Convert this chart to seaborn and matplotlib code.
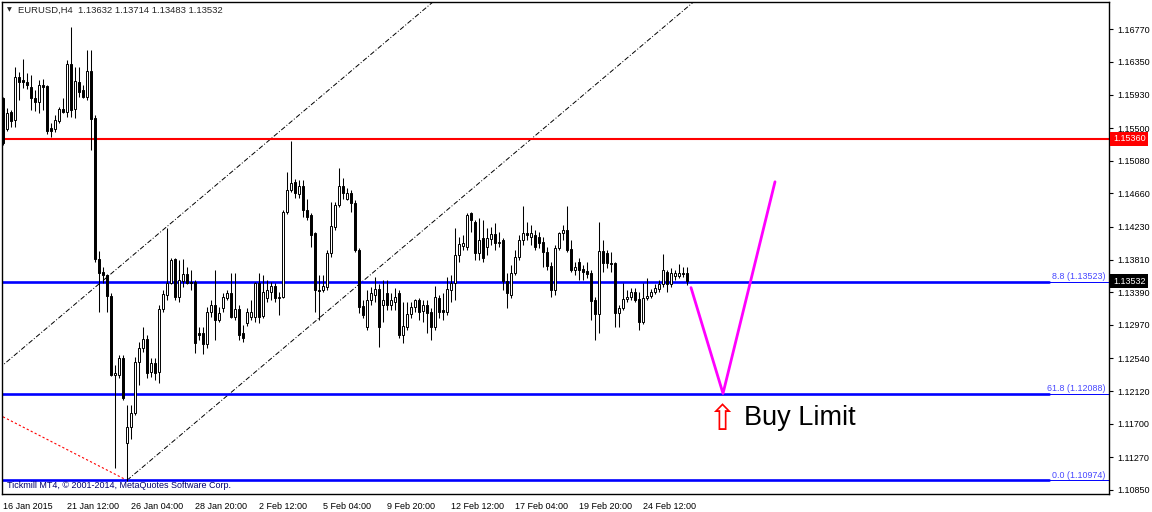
import numpy as np
import pandas as pd
import matplotlib
matplotlib.use("Agg")
import matplotlib.pyplot as plt
import seaborn as sns

sns.set_theme(style="white")
plt.rcParams["font.family"] = ["Liberation Sans", "DejaVu Sans"]

# EURUSD H4 candles (bar 0 = 16 Jan 20:00)
opens = [
    1.1589, 1.1549, 1.1571, 1.1560, 1.1616, 1.1612, 1.1609, 1.1603, 1.1589, 1.1584,
    1.1605, 1.1604, 1.1550, 1.1549, 1.1559, 1.1575, 1.1571, 1.1632, 1.1575, 1.1609,
    1.1599, 1.1590, 1.1623, 1.1563, 1.1382, 1.1365, 1.1361, 1.1334, 1.1233, 1.1233,
    1.1255, 1.1145, 1.1166, 1.1184, 1.1249, 1.1267, 1.1279, 1.1237, 1.1248, 1.1237,
    1.1318, 1.1336, 1.1351, 1.1382, 1.1333, 1.1353, 1.1363, 1.1352, 1.1352, 1.1287,
    1.1287, 1.1272, 1.1314, 1.1323, 1.1303, 1.1319, 1.1332, 1.1338, 1.1307, 1.1318,
    1.1287, 1.1299, 1.1307, 1.1307, 1.1351, 1.1308, 1.1332, 1.1339, 1.1347, 1.1332,
    1.1333, 1.1442, 1.1470, 1.1481, 1.1465, 1.1476, 1.1445, 1.1438, 1.1415, 1.1342,
    1.1342, 1.1346, 1.1390, 1.1423, 1.1451, 1.1475, 1.1459, 1.1466, 1.1454, 1.1393,
    1.1321, 1.1294, 1.1329, 1.1336, 1.1343, 1.1323, 1.1338, 1.1323, 1.1327, 1.1338,
    1.1284, 1.1295, 1.1311, 1.1320, 1.1329, 1.1315, 1.1323, 1.1314, 1.1294, 1.1332,
    1.1316, 1.1314, 1.1342, 1.1351, 1.1387, 1.1398, 1.1397, 1.1441, 1.1429, 1.1390,
    1.1409, 1.1397, 1.1408, 1.1414, 1.1402, 1.1406, 1.1353, 1.1336, 1.1364, 1.1384,
    1.1406, 1.1415, 1.1410, 1.1413, 1.1410, 1.1404, 1.1391, 1.1373, 1.1342, 1.1396,
    1.1415, 1.1419, 1.1395, 1.1368, 1.1378, 1.1369, 1.1366, 1.1364, 1.1329, 1.1311,
    1.1392, 1.1390, 1.1377, 1.1377, 1.1313, 1.1319, 1.1330, 1.1333, 1.1339, 1.1330,
    1.1301, 1.1332, 1.1334, 1.1339, 1.1343, 1.1349, 1.1365, 1.1349, 1.1360, 1.1360,
    1.1364, 1.13632,
]
highs = [
    1.1590, 1.1576, 1.1573, 1.1629, 1.1622, 1.1639, 1.1621, 1.1618, 1.1599, 1.1612,
    1.1613, 1.1605, 1.1557, 1.1567, 1.1577, 1.1589, 1.1638, 1.1680, 1.1629, 1.1629,
    1.1605, 1.1650, 1.1650, 1.1567, 1.1392, 1.1372, 1.1362, 1.1338, 1.1245, 1.1259,
    1.1259, 1.1194, 1.1194, 1.1256, 1.1275, 1.1295, 1.1284, 1.1255, 1.1255, 1.1323,
    1.1342, 1.1422, 1.1383, 1.1383, 1.1381, 1.1382, 1.1372, 1.1368, 1.1355, 1.1295,
    1.1294, 1.1320, 1.1329, 1.1368, 1.1320, 1.1338, 1.1342, 1.1364, 1.1364, 1.1323,
    1.1297, 1.1319, 1.1329, 1.1352, 1.1364, 1.1361, 1.1355, 1.1352, 1.1351, 1.1339,
    1.1445, 1.1494, 1.1533, 1.1485, 1.1483, 1.1483, 1.1459, 1.1441, 1.1417, 1.1361,
    1.1361, 1.1393, 1.1455, 1.1455, 1.1499, 1.1486, 1.1473, 1.1470, 1.1458, 1.1396,
    1.1329, 1.1342, 1.1346, 1.1359, 1.1349, 1.1355, 1.1355, 1.1338, 1.1345, 1.1342,
    1.1326, 1.1326, 1.1327, 1.1330, 1.1332, 1.1329, 1.1329, 1.1319, 1.1347, 1.1336,
    1.1338, 1.1359, 1.1361, 1.1422, 1.1410, 1.1413, 1.1441, 1.1442, 1.1432, 1.1434,
    1.1432, 1.1422, 1.1423, 1.1428, 1.1417, 1.1409, 1.1364, 1.1374, 1.1393, 1.1413,
    1.1450, 1.1429, 1.1426, 1.1419, 1.1417, 1.1410, 1.1397, 1.1378, 1.1400, 1.1417,
    1.1426, 1.1450, 1.1406, 1.1378, 1.1383, 1.1374, 1.1378, 1.1368, 1.1333, 1.1429,
    1.1406, 1.1393, 1.1391, 1.1378, 1.1323, 1.1351, 1.1342, 1.1345, 1.1345, 1.1339,
    1.1351, 1.1357, 1.1343, 1.1349, 1.1355, 1.1388, 1.1368, 1.1370, 1.1368, 1.1375,
    1.1372, 1.13714,
]
lows = [
    1.1528, 1.1546, 1.1551, 1.1551, 1.1586, 1.1602, 1.1600, 1.1573, 1.1572, 1.1569,
    1.1573, 1.1542, 1.1539, 1.1545, 1.1557, 1.1569, 1.1564, 1.1564, 1.1563, 1.1590,
    1.1589, 1.1586, 1.1522, 1.1378, 1.1314, 1.1351, 1.1314, 1.1232, 1.1113, 1.1229,
    1.1201, 1.1097, 1.1151, 1.1181, 1.1220, 1.1262, 1.1229, 1.1230, 1.1226, 1.1222,
    1.1314, 1.1329, 1.1349, 1.1329, 1.1327, 1.1346, 1.1349, 1.1342, 1.1261, 1.1278,
    1.1260, 1.1267, 1.1307, 1.1278, 1.1301, 1.1314, 1.1329, 1.1306, 1.1303, 1.1278,
    1.1275, 1.1296, 1.1303, 1.1301, 1.1299, 1.1306, 1.1327, 1.1329, 1.1327, 1.1310,
    1.1332, 1.1440, 1.1468, 1.1460, 1.1460, 1.1436, 1.1432, 1.1397, 1.1314, 1.1303,
    1.1339, 1.1342, 1.1384, 1.1419, 1.1449, 1.1459, 1.1458, 1.1442, 1.1391, 1.1313,
    1.1306, 1.1291, 1.1323, 1.1326, 1.1269, 1.1301, 1.1316, 1.1316, 1.1316, 1.1280,
    1.1274, 1.1291, 1.1306, 1.1314, 1.1303, 1.1301, 1.1287, 1.1278, 1.1291, 1.1306,
    1.1303, 1.1310, 1.1326, 1.1329, 1.1378, 1.1393, 1.1393, 1.1417, 1.1381, 1.1381,
    1.1378, 1.1387, 1.1400, 1.1393, 1.1397, 1.1342, 1.1319, 1.1332, 1.1361, 1.1381,
    1.1400, 1.1406, 1.1400, 1.1393, 1.1396, 1.1372, 1.1368, 1.1333, 1.1336, 1.1393,
    1.1406, 1.1391, 1.1365, 1.1361, 1.1355, 1.1355, 1.1357, 1.1303, 1.1278, 1.1287,
    1.1365, 1.1370, 1.1365, 1.1295, 1.1295, 1.1316, 1.1326, 1.1329, 1.1326, 1.1291,
    1.1298, 1.1329, 1.1332, 1.1337, 1.1340, 1.1346, 1.1339, 1.1346, 1.1355, 1.1357,
    1.1358, 1.13483,
]
closes = [
    1.1531, 1.1569, 1.1559, 1.1616, 1.1609, 1.1609, 1.1605, 1.1589, 1.1584, 1.1605,
    1.1603, 1.1546, 1.1546, 1.1560, 1.1575, 1.1571, 1.1632, 1.1573, 1.1611, 1.1596,
    1.1590, 1.1623, 1.1562, 1.1382, 1.1364, 1.1361, 1.1334, 1.1233, 1.1235, 1.1255,
    1.1203, 1.1166, 1.1184, 1.1249, 1.1267, 1.1279, 1.1235, 1.1248, 1.1235, 1.1318,
    1.1337, 1.1351, 1.1381, 1.1333, 1.1355, 1.1363, 1.1351, 1.1351, 1.1274, 1.1284,
    1.1272, 1.1314, 1.1323, 1.1303, 1.1313, 1.1333, 1.1338, 1.1307, 1.1318, 1.1284,
    1.1280, 1.1314, 1.1314, 1.1351, 1.1307, 1.1340, 1.1342, 1.1347, 1.1332, 1.1333,
    1.1442, 1.1470, 1.1479, 1.1466, 1.1476, 1.1445, 1.1436, 1.1413, 1.1342, 1.1341,
    1.1347, 1.1390, 1.1424, 1.1451, 1.1476, 1.1466, 1.1466, 1.1454, 1.1393, 1.1320,
    1.1310, 1.1329, 1.1338, 1.1343, 1.1294, 1.1329, 1.1323, 1.1329, 1.1333, 1.1284,
    1.1296, 1.1311, 1.1320, 1.1329, 1.1314, 1.1323, 1.1313, 1.1294, 1.1333, 1.1314,
    1.1314, 1.1343, 1.1351, 1.1387, 1.1401, 1.1402, 1.1438, 1.1432, 1.1390, 1.1406,
    1.1383, 1.1409, 1.1414, 1.1402, 1.1404, 1.1353, 1.1338, 1.1364, 1.1384, 1.1406,
    1.1415, 1.1413, 1.1415, 1.1397, 1.1402, 1.1391, 1.1373, 1.1342, 1.1396, 1.1415,
    1.1419, 1.1393, 1.1368, 1.1372, 1.1368, 1.1365, 1.1363, 1.1328, 1.1311, 1.1392,
    1.1377, 1.1377, 1.1375, 1.1313, 1.1319, 1.1330, 1.1333, 1.1339, 1.1329, 1.1301,
    1.1332, 1.1334, 1.1339, 1.1345, 1.1349, 1.1368, 1.1349, 1.1364, 1.1364, 1.1364,
    1.1363, 1.13532,
]

date_bars = [0, 16, 32, 48, 64, 80, 96, 112, 128, 144, 160]
date_labels = ["16 Jan 2015", "21 Jan 12:00", "26 Jan 04:00", "28 Jan 20:00",
               "2 Feb 12:00", "5 Feb 04:00", "9 Feb 20:00", "12 Feb 12:00",
               "17 Feb 04:00", "19 Feb 20:00", "24 Feb 12:00"]
price_ticks = [1.16770, 1.16350, 1.15930, 1.15500, 1.15080, 1.14660, 1.14230, 1.13810,
               1.13390, 1.12970, 1.12540, 1.12120, 1.11700, 1.11270, 1.10850]

resistance = 1.15360
fib_levels = [8.8, 61.8, 0.0]
fib_prices = [1.13523, 1.12088, 1.10974]
fib_base_bars = [0, 31]
fib_base_prices = [1.1179, 1.10974]

# equidistant channel: lower line anchored at the 26 Jan low
chan_bar = 31
chan_price = 1.10974
chan_slope = 0.000434
chan_width = 0.02827

path_bars = [172, 180, 193]
path_prices = [1.1345, 1.1209, 1.1481]
buy_bar = 180
buy_price = 1.1176

df = pd.DataFrame({"bar": np.arange(len(opens)), "open": opens, "high": highs,
                   "low": lows, "close": closes})
df["bull"] = df["close"] >= df["open"]

fig = plt.figure(figsize=(11.52, 5.12), dpi=100)
ax = fig.add_axes([2 / 1152, 18 / 512, 1107 / 1152, 492 / 512])
ax.set_facecolor("white")
ax.grid(False)

# channel and fibo base
xs_low = np.array([chan_bar, 290])
ax.plot(xs_low, chan_price + chan_slope * (xs_low - chan_bar), color="black", lw=0.7,
        ls=(0, (5, 2, 1, 2)), zorder=2)
xs_up = np.array([-10, 290])
ax.plot(xs_up, chan_price + chan_width + chan_slope * (xs_up - chan_bar), color="black", lw=0.7,
        ls=(0, (5, 2, 1, 2)), zorder=2)
ax.plot(fib_base_bars, fib_base_prices, color="#ff0000", lw=0.8, ls=(0, (2, 2)), zorder=2)

ax.axhline(resistance, color="#ff0000", lw=1.5, zorder=2)
for lvl, price in zip(fib_levels, fib_prices):
    ax.axhline(price, xmax=0.946, color="#0000ff", lw=1.9, zorder=2)
    ax.axhline(price, xmin=0.946, color="#0000ff", lw=0.7, zorder=2)
    ax.text(0.997, price + 0.00008, f"{lvl:.1f} ({price:.5f})", transform=ax.get_yaxis_transform(),
            ha="right", va="bottom", fontsize=6.4, color="#4646ff")

# candles
ax.vlines(df["bar"], df["low"], df["high"], color="black", lw=0.75, zorder=3)
body_low = df[["open", "close"]].min(axis=1)
body_h = (df["close"] - df["open"]).abs().clip(lower=0.00004)
ax.bar(df["bar"], body_h, bottom=body_low, width=0.55,
       color=np.where(df["bull"], "white", "black"), edgecolor="black", linewidth=0.7, zorder=4)

sns.lineplot(x=path_bars, y=path_prices, sort=False, estimator=None, color="#ff00ff", lw=2, ax=ax, zorder=5)
ax.text(buy_bar - 0.4, buy_price - 0.0001, "\u21e7", fontsize=25, color="#ff0000", ha="center", va="center",
        family="DejaVu Sans", zorder=6)
ax.text(buy_bar + 5.3, buy_price + 0.0002, "Buy Limit", fontsize=19.5, color="black", ha="left", va="center")

ax.set_xlim(-0.25, 276.5)
ax.set_ylim(1.10798, 1.17120)

ax.yaxis.tick_right()
ax.set_yticks(price_ticks)
ax.set_yticklabels([f"{t:.5f}" for t in price_ticks])
ax.set_xticks(date_bars)
ax.set_xticklabels(date_labels, ha="left")
ax.tick_params(axis="y", length=3, width=0.8, pad=3, labelsize=6.5, colors="black")
ax.tick_params(axis="x", length=4, width=0.8, pad=1.5, labelsize=6.5, colors="black")
for s in ax.spines.values():
    s.set_color("black")
    s.set_linewidth(1)

ax.text(1.0035, resistance, f"{resistance:.5f}", transform=ax.get_yaxis_transform(), fontsize=6.5,
        color="white", ha="left", va="center", bbox=dict(boxstyle="square,pad=0.3", fc="#ff0000", ec="none"))
ax.text(1.0035, closes[-1], f"{closes[-1]:.5f}", transform=ax.get_yaxis_transform(), fontsize=6.5,
        color="white", ha="left", va="center", bbox=dict(boxstyle="square,pad=0.3", fc="black", ec="none"))

fig.text(7 / 1152, 1 - 10 / 512, "\u25bc", fontsize=4.5, va="center", family="DejaVu Sans")
fig.text(18 / 1152, 1 - 10 / 512,
         f"EURUSD,H4  {opens[-1]:.5f} {highs[-1]:.5f} {lows[-1]:.5f} {closes[-1]:.5f}",
         fontsize=6.8, va="center")
ax.text(0.0045, 0.0165, "Tickmill MT4, \u00a9 2001-2014, MetaQuotes Software Corp.", transform=ax.transAxes,
        fontsize=6.5, color="#00006e", va="center", ha="left")

fig.savefig("out.png", dpi=100)
